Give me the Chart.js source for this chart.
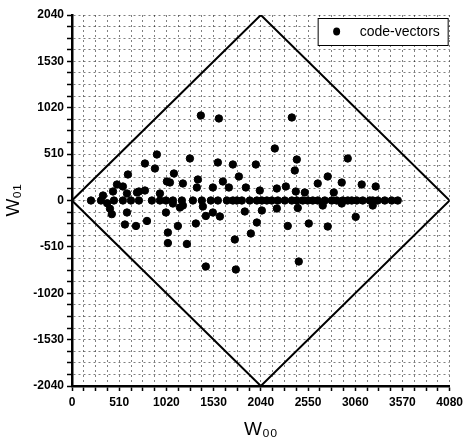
<!DOCTYPE html>
<html lang="en">
<head>
  <meta charset="UTF-8">
  <title>code-vectors</title>
  <style>
    html, body { margin: 0; padding: 0; background: #fff; }
  </style>
</head>
<body>
  <canvas id="myChart" width="467" height="445"></canvas>
  <script src="https://cdn.jsdelivr.net/npm/chart.js"></script>
  <script>
// tick labels (major), minor grid every quarter step
const xTicks = [0, 510, 1020, 1530, 2040, 2550, 3060, 3570, 4080]
const yTicks = [-2040, -1530, -1020, -510, 0, 510, 1020, 1530, 2040]

// code-vectors lying on W01 = 0
const zeroX = [205, 313, 453, 550, 637, 723, 863, 950, 1015, 1090, 1187, 1306, 1403, 1500, 1576,
  1673, 1738, 1781, 1835, 1921, 1997, 2051, 2105, 2159, 2224, 2299, 2375, 2429, 2493, 2547, 2601,
  2655, 2731, 2806, 2860, 2925, 2979, 3022, 3076, 3141, 3217, 3249, 3303, 3379, 3454, 3519]

// other code-vectors (W00, W01)
const offX = [335, 443, 486, 550, 594, 604, 702, 723, 788, 788, 896, 917, 950, 1025, 1058, 1101,
  1198, 1274, 1349, 1360, 1392, 1522, 1576, 1587, 1630, 1695, 1738, 1803, 1878, 1986, 2029, 2191,
  2213, 2310, 2375, 2407, 2418, 2429, 2515, 2655, 2763, 2828, 2914, 2979, 3130, 3281,
  380, 410, 430, 594, 572, 691, 810, 1015, 1036, 1036, 1090, 1144, 1166, 1198, 1241, 1338, 1414,
  1446, 1446, 1522, 1598, 1759, 1770, 1867, 1932, 1997, 2051, 2213, 2331, 2439, 2450, 2558, 2709,
  2763, 2914, 3065, 3249]
const offY = [55, 99, 176, 154, 77, 286, 88, 99, 110, 407, 352, 506, 77, 209, 198, 297,
  187, 462, 143, 231, 935, 143, 418, 902, 209, 143, 396, 264, 143, 396, 110, 572,
  132, 154, 913, 330, 99, 451, 88, 187, 264, 88, 198, 462, 176, 154,
  -30, -90, -150, -132, -264, -280, -225, -132, -352, -468, -33, -280, -77, -55, -478, -253, -66,
  -170, -726, -132, -176, -429, -759, -121, -363, -242, -110, -88, -280, -82, -671, -253, -55,
  -286, -33, -180, -55]

// diamond boundary |W01| <= min(W00, 4080 - W00)
const borderX = [0, 2040, 4080, 2040, 0]
const borderY = [0, 2040, 0, -2040, 0]

const tickFont = { family: "'Liberation Sans Narrow', 'Liberation Sans', Arial", size: 12, weight: 'bold' }
const titleFont = { family: "'Liberation Sans Narrow', 'Liberation Sans', Arial", size: 19 }

const points = zeroX.map(x => ({ x: x, y: 0 }))
  .concat(offX.map((x, i) => ({ x: x, y: offY[i] })))

function withMinor(major) {
  const out = []
  for (let i = 0; i < major.length; i++) {
    out.push({ value: major[i] })
    if (i < major.length - 1) {
      const step = (major[i + 1] - major[i]) / 4
      for (let k = 1; k < 4; k++) out.push({ value: major[i] + k * step, minor: true })
    }
  }
  return out
}

const boxLegend = {
  id: 'boxLegend',
  afterDraw(chart) {
    const ctx = chart.ctx
    const a = chart.chartArea
    const w = 130, h = 27
    const x0 = a.right - w - 2, y0 = a.top + 3
    ctx.save()
    ctx.fillStyle = '#fff'
    ctx.fillRect(x0, y0, w, h)
    ctx.strokeStyle = '#000'
    ctx.lineWidth = 1
    ctx.strokeRect(x0 + 0.5, y0 + 0.5, w, h)
    ctx.fillStyle = '#000'
    ctx.beginPath()
    ctx.ellipse(x0 + 19, y0 + h / 2, 3.5, 4, 0, 0, Math.PI * 2)
    ctx.fill()
    ctx.font = "14px 'Liberation Sans', Arial"
    ctx.textBaseline = 'middle'
    ctx.fillText(chart.data.datasets[0].label, x0 + 42, y0 + h / 2 + 1)
    ctx.restore()
  }
}

const gridOpts = {
  color: 'rgba(0,0,0,0.5)', lineWidth: 1,
  tickLength: 5, tickColor: '#000', tickBorderDash: [], tickWidth: 1.5
}

new Chart(document.getElementById('myChart'), {
  type: 'scatter',
  data: {
    datasets: [{
      label: 'code-vectors',
      data: points,
      backgroundColor: '#000',
      borderColor: '#000',
      pointRadius: 3.7,
      pointHoverRadius: 3.7
    }, {
      label: 'boundary',
      data: borderX.map((x, i) => ({ x: x, y: borderY[i] })),
      showLine: true,
      borderColor: '#000',
      borderWidth: 2,
      pointRadius: 0,
      fill: false
    }]
  },
  options: {
    responsive: false,
    animation: false,
    layout: { padding: { top: 15, right: 17, left: 0, bottom: 0 } },
    plugins: { legend: { display: false }, tooltip: { enabled: false } },
    scales: {
      x: {
        type: 'linear',
        min: 0, max: 4080,
        afterBuildTicks: s => { s.ticks = withMinor(xTicks) },
        afterFit: s => { s.height = 59 },
        ticks: {
          autoSkip: false, maxRotation: 0, color: '#000', font: tickFont, padding: 4,
          callback: (v, i, t) => t[i].minor ? '' : String(v)
        },
        grid: gridOpts,
        border: { color: '#000', width: 2.5, dash: [2, 3] },
        title: {
          display: true, text: 'W₀₀', color: '#000', font: titleFont,
          padding: { top: 4, bottom: 4 }
        }
      },
      y: {
        type: 'linear',
        min: -2040, max: 2040,
        afterBuildTicks: s => { s.ticks = withMinor(yTicks) },
        afterFit: s => { s.width = 72 },
        ticks: {
          autoSkip: false, color: '#000', font: tickFont, padding: 3,
          callback: (v, i, t) => t[i].minor ? '' : String(v)
        },
        grid: gridOpts,
        border: { color: '#000', width: 2.5, dash: [2, 3] },
        title: {
          display: true, text: 'W₀₁', color: '#000', font: titleFont,
          padding: { top: 2, bottom: 2 }
        }
      }
    }
  },
  plugins: [boxLegend]
})
  </script>
</body>
</html>
